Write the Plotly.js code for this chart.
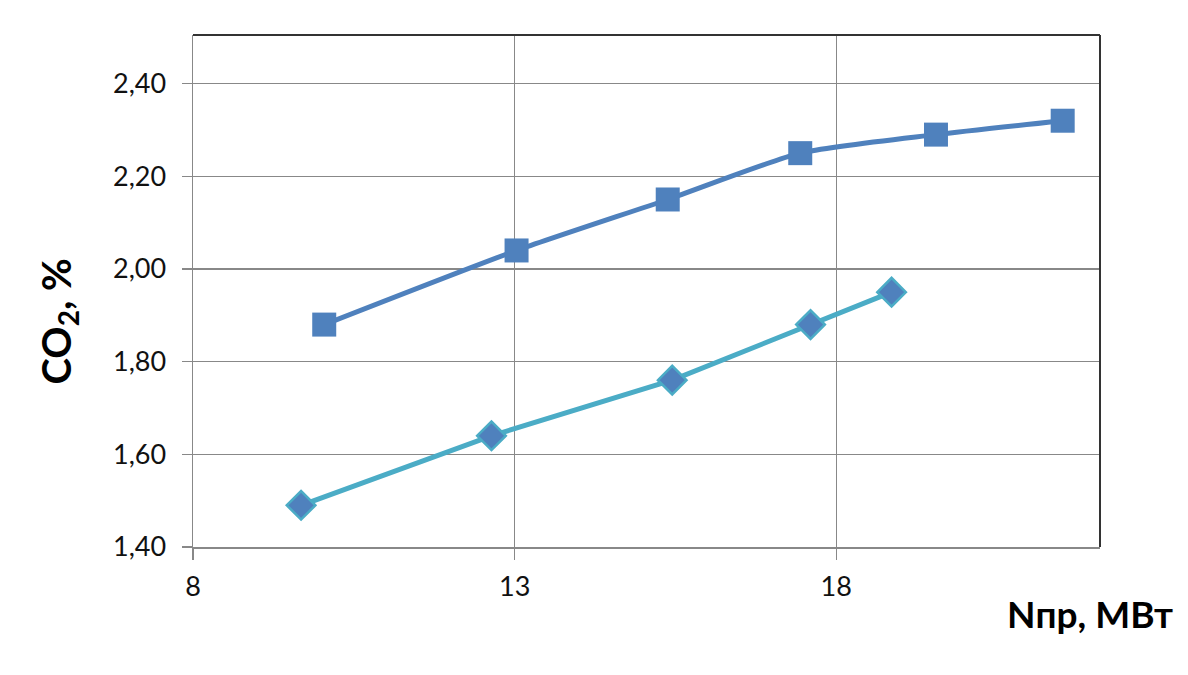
<!DOCTYPE html>
<html>
<head>
<meta charset="utf-8">
<script src="https://cdn.plot.ly/plotly-3.0.1.min.js"></script>
<style>html,body{margin:0;padding:0;background:#fff;}#chart{width:1188px;height:675px;}</style>
</head>
<body>
<div id="chart"></div>
<script>
// Series 1 (squares)
const xSquares = [10.04, 13.03, 15.38, 17.44, 19.55, 21.52];
const ySquares = [1.88, 2.04, 2.15, 2.25, 2.29, 2.32];
// Series 2 (diamonds)
const xDiamonds = [9.68, 12.64, 15.45, 17.60, 18.86];
const yDiamonds = [1.49, 1.64, 1.76, 1.88, 1.95];
// Axis ticks
const xTicks = [8, 13, 18];
const yTicks = [1.4, 1.6, 1.8, 2.0, 2.2, 2.4];
const yTitle = "CO<sub>2</sub>, %";
const xTitle = "Nпр, МВт";

const font = "Lato, 'Open Sans', sans-serif";
const gridCol = "#888888";

const traces = [
  {
    x: xSquares, y: ySquares, type: "scatter", mode: "lines+markers",
    line: {color: "#4F81BD", width: 5, shape: "spline", smoothing: 0.6},
    marker: {symbol: "square", size: 24, color: "#4F81BD", line: {width: 0}}
  },
  {
    x: xDiamonds, y: yDiamonds, type: "scatter", mode: "lines+markers",
    line: {color: "#4BACC6", width: 5},
    marker: {symbol: "diamond", size: 22, color: "#4F81BD", line: {width: 2.5, color: "#4BACC6"}}
  }
];

const layout = {
  width: 1188, height: 675,
  margin: {l: 193, r: 88, t: 35, b: 128},
  paper_bgcolor: "#ffffff", plot_bgcolor: "#ffffff",
  showlegend: false,
  separators: ", ",
  font: {family: font, color: "#000"},
  xaxis: {
    range: [8, 22.1], tickvals: xTicks, ticktext: xTicks.map(String),
    showgrid: true, gridcolor: gridCol, gridwidth: 1.5,
    showline: true, linecolor: gridCol, linewidth: 1.5,
    ticks: "outside", ticklen: 11, tickcolor: gridCol, tickwidth: 1.5,
    ticklabelstandoff: 4,
    tickfont: {family: font, size: 27, color: "#111"},
    zeroline: false
  },
  yaxis: {
    range: [1.4, 2.505], tickvals: yTicks, tickformat: ".2f",
    showgrid: true, gridcolor: gridCol, gridwidth: 1.5,
    showline: true, linecolor: gridCol, linewidth: 1.5,
    ticks: "outside", ticklen: 10, tickcolor: gridCol, tickwidth: 1.5,
    ticklabelstandoff: 10,
    tickfont: {family: font, size: 27, color: "#111"},
    zeroline: false
  },
  shapes: [
    {type: "line", xref: "paper", yref: "paper", x0: 0, x1: 1, y0: 1, y1: 1, line: {color: "#333", width: 2}},
    {type: "line", xref: "paper", yref: "paper", x0: 1, x1: 1, y0: 0, y1: 1, line: {color: "#333", width: 2}}
  ],
  annotations: [
    {text: "<b>" + yTitle + "</b>", xref: "paper", yref: "paper", x: -0.148, y: 0.44,
     textangle: -90, showarrow: false, xanchor: "center", yanchor: "middle",
     font: {family: font, size: 40, color: "#000"}},
    {text: "<b>" + xTitle + "</b>", xref: "paper", yref: "paper", x: 1.083, y: -0.13,
     showarrow: false, xanchor: "right", yanchor: "middle",
     font: {family: font, size: 37, color: "#000"}}
  ]
};

Plotly.newPlot("chart", traces, layout, {displayModeBar: false, staticPlot: true});
</script>
</body>
</html>
